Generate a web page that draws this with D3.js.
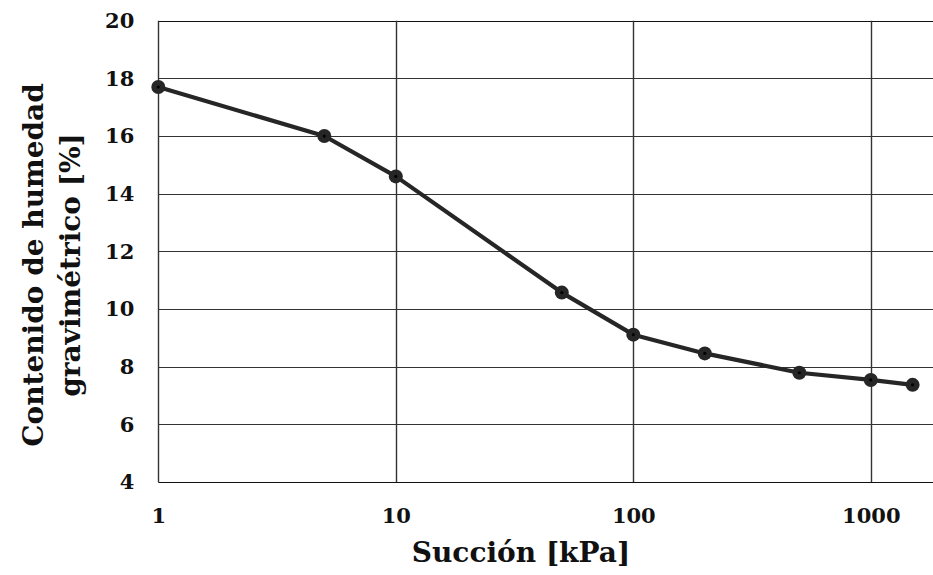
<!DOCTYPE html>
<html>
<head>
<meta charset="utf-8">
<script src="https://cdn.jsdelivr.net/npm/d3@7/dist/d3.min.js"></script>
<style>
  html, body { margin: 0; padding: 0; background: #fff; }
  svg { display: block; }
</style>
</head>
<body>
<svg id="chart" width="933" height="575"></svg>
<script>
// Soil water retention data: suction (kPa) vs gravimetric water content (%)
const suction = [1, 5, 10, 50, 100, 200, 500, 1000, 1500];
const moisture = [17.7, 16.0, 14.6, 10.57, 9.11, 8.46, 7.79, 7.54, 7.37];
const xTicks = [1, 10, 100, 1000];
const yTicks = [4, 6, 8, 10, 12, 14, 16, 18, 20];
const xTitle = "Succión [kPa]";
const yTitleLines = ["Contenido de humedad", "gravimétrico [%]"];

const FONT = "DejaVu Serif";
const svg = d3.select("#chart");
const plotLeft = 158.3, plotTop = 20.7, plotBottom = 482, decade = 237.5;

const x = d3.scaleLog().domain([1, 10000]).range([plotLeft, plotLeft + 4 * decade]);
const y = d3.scaleLinear().domain([4, 20]).range([plotBottom, plotTop]);

// grid
const grid = svg.append("g");
grid.selectAll("line.h").data(yTicks).join("line")
  .attr("x1", plotLeft).attr("x2", 933)
  .attr("y1", d => Math.round(y(d)) + 0.5).attr("y2", d => Math.round(y(d)) + 0.5)
  .attr("stroke", d => (d === 20 || d === 4) ? "#111" : "#333").attr("stroke-width", 1.2);
grid.selectAll("line.v").data(xTicks).join("line")
  .attr("y1", plotTop).attr("y2", plotBottom)
  .attr("x1", d => Math.round(x(d)) + 0.5).attr("x2", d => Math.round(x(d)) + 0.5)
  .attr("stroke", "#333").attr("stroke-width", 1.4);

// axes labels
const yAxis = svg.append("g").attr("transform", `translate(${plotLeft},0)`)
  .call(d3.axisLeft(y).tickValues(yTicks).tickSize(0).tickPadding(24));
yAxis.select(".domain").remove();
yAxis.attr("font-family", FONT).attr("font-weight", "bold").attr("font-size", 21);
yAxis.selectAll("text").attr("fill", "#111");

const xAxis = svg.append("g").attr("transform", `translate(0,${plotBottom})`)
  .call(d3.axisBottom(x).tickValues(xTicks).tickFormat(d3.format("d")).tickSize(0).tickPadding(26));
xAxis.select(".domain").remove();
xAxis.attr("font-family", FONT).attr("font-weight", "bold").attr("font-size", 21);
xAxis.selectAll("text").attr("fill", "#111");

// series
const line = d3.line().x((d, i) => x(suction[i])).y(d => y(d));
svg.append("path").datum(moisture)
  .attr("d", line).attr("fill", "none").attr("stroke", "#262626").attr("stroke-width", 4.2)
  .attr("stroke-linejoin", "round");
const pts = svg.append("g").selectAll("g").data(moisture).join("g")
  .attr("transform", (d, i) => `translate(${x(suction[i])},${y(d)})`);
pts.append("circle").attr("r", 7).attr("fill", "#262626");
pts.append("circle").attr("r", 1.6).attr("fill", "#000");

// titles
svg.append("text").attr("x", 521).attr("y", 562).attr("text-anchor", "middle")
  .attr("font-family", FONT).attr("font-weight", "bold").attr("fill", "#111")
  .attr("font-size", 28).text(xTitle);
const yt = svg.append("text").attr("transform", "translate(0,265) rotate(-90)")
  .attr("font-family", FONT).attr("font-weight", "bold").attr("fill", "#111")
  .attr("text-anchor", "middle").attr("font-size", 28);
yt.append("tspan").attr("x", 0).attr("y", 43).text(yTitleLines[0]);
yt.append("tspan").attr("x", 0).attr("y", 80).text(yTitleLines[1]);
</script>
</body>
</html>
